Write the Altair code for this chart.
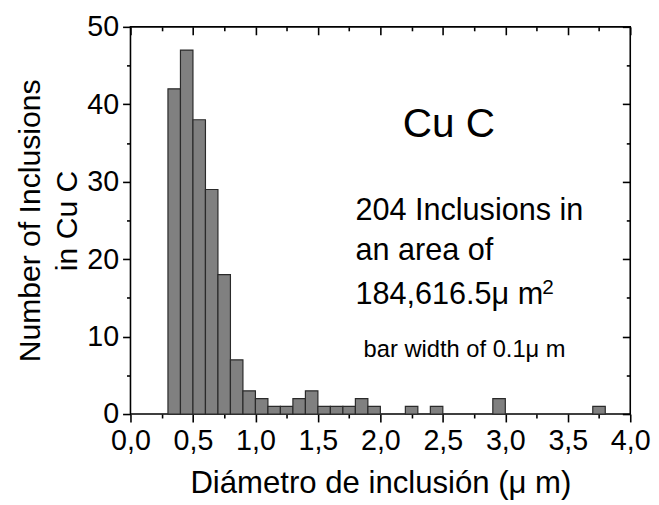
import altair as alt
import pandas as pd

# ---- data ----
bin_start = [0.3, 0.4, 0.5, 0.6, 0.7, 0.8, 0.9, 1.0, 1.1, 1.2, 1.3, 1.4, 1.5, 1.6,
             1.7, 1.8, 1.9, 2.2, 2.4, 2.9, 3.7]
counts = [42, 47, 38, 29, 18, 7, 3, 2, 1, 1, 2, 3, 1, 1, 1, 2, 1, 1, 1, 2, 1]
bin_width = 0.1

x_major = [0.0, 0.5, 1.0, 1.5, 2.0, 2.5, 3.0, 3.5, 4.0]
x_minor = [0.25, 0.75, 1.25, 1.75, 2.25, 2.75, 3.25, 3.75]
y_major = [0, 10, 20, 30, 40, 50]
y_minor = [5, 15, 25, 35, 45]

ann_text = ["Cu C", "204 Inclusions in", "an area of", "184,616.5\u03bc m", "2",
            "bar width of 0.1\u03bc m"]
ann_x = [2.18, 1.80, 1.80, 1.80, 3.295, 1.866]
ann_y = [35.84, 25.0, 19.9, 14.16, 15.45, 7.4]
ann_size = [41, 31, 31, 31, 21, 24]

FONT = "Liberation Sans"

df = pd.DataFrame({
    "x0": bin_start,
    "x1": [b + bin_width for b in bin_start],
    "n": counts,
    "zero": [0] * len(counts),
})
ann = pd.DataFrame({"t": ann_text, "x": ann_x, "y": ann_y, "s": ann_size})

xs = alt.Scale(domain=[0, 4], nice=False, zero=False)
ys = alt.Scale(domain=[0, 50], nice=False)

lab_expr = "replace(format(datum.value, '.1f'), '.', ',')"
TW = 1.6

bars = alt.Chart(df).mark_rect(fill="#808080", stroke="#2a2a2a", strokeWidth=1.2).encode(
    x=alt.X("x0:Q", scale=xs, axis=alt.Axis(
        values=x_major, orient="bottom", labelExpr=lab_expr, title="Diámetro de inclusión (μ m)",
        tickSize=8, tickWidth=TW, tickColor="black", domain=False, grid=False,
        labelFlush=False, labelOverlap=False,
        labelFontSize=29, labelFont=FONT, labelColor="black", labelPadding=5,
        titleFontSize=31.5, titleFont=FONT, titleFontWeight="normal", titleColor="black",
        titlePadding=12)),
    x2="x1:Q",
    y=alt.Y("n:Q", scale=ys, axis=alt.Axis(
        values=y_major, orient="left", title=["Number of Inclusions", "in Cu C"],
        tickSize=8, tickWidth=TW, tickColor="black", domain=False, grid=False,
        labelFlush=False, labelOverlap=False,
        labelFontSize=29, labelFont=FONT, labelColor="black", labelPadding=4,
        titleFontSize=30.5, titleFont=FONT, titleFontWeight="normal", titleColor="black",
        titleLineHeight=38, titlePadding=4)),
    y2="zero:Q",
)

minor = alt.Chart(df).mark_point(opacity=0).encode(
    x=alt.X("x0:Q", scale=xs, axis=alt.Axis(
        values=x_minor, orient="bottom", labels=False, title=None, domain=False, grid=False,
        tickSize=4, tickWidth=TW, tickColor="black")),
    y=alt.Y("n:Q", scale=ys, axis=alt.Axis(
        values=y_minor, orient="left", labels=False, title=None, domain=False, grid=False,
        tickSize=4, tickWidth=TW, tickColor="black")),
)

top_major = alt.Chart(df).mark_point(opacity=0).encode(
    x=alt.X("x0:Q", scale=xs, axis=alt.Axis(
        values=x_major, orient="top", labels=False, title=None, domain=False, grid=False,
        tickSize=8, tickWidth=TW, tickColor="black", offset=-8)),
    y=alt.Y("n:Q", scale=ys, axis=alt.Axis(
        values=y_major, orient="right", labels=False, title=None, domain=False, grid=False,
        tickSize=8, tickWidth=TW, tickColor="black", offset=-8)),
)

top_minor = alt.Chart(df).mark_point(opacity=0).encode(
    x=alt.X("x0:Q", scale=xs, axis=alt.Axis(
        values=x_minor, orient="top", labels=False, title=None, domain=False, grid=False,
        tickSize=4, tickWidth=TW, tickColor="black", offset=-4)),
    y=alt.Y("n:Q", scale=ys, axis=alt.Axis(
        values=y_minor, orient="right", labels=False, title=None, domain=False, grid=False,
        tickSize=4, tickWidth=TW, tickColor="black", offset=-4)),
)

texts = alt.Chart(ann).mark_text(align="left", baseline="alphabetic", font=FONT,
                                 color="black").encode(
    x=alt.X("x:Q", scale=xs, axis=None),
    y=alt.Y("y:Q", scale=ys, axis=None),
    text="t:N",
    size=alt.Size("s:Q", scale=None, legend=None),
)

chart = alt.layer(bars, minor, top_major, top_minor, texts).resolve_axis(
    x="independent", y="independent"
).properties(
    width=506, height=392,
    autosize=alt.AutoSizeParams(type="none"),
    padding={"left": 124, "top": 16, "right": 21, "bottom": 89},
).configure_view(stroke="black", strokeWidth=1.6)

chart.save("out.html", embed_options={"renderer": "svg", "actions": False})
